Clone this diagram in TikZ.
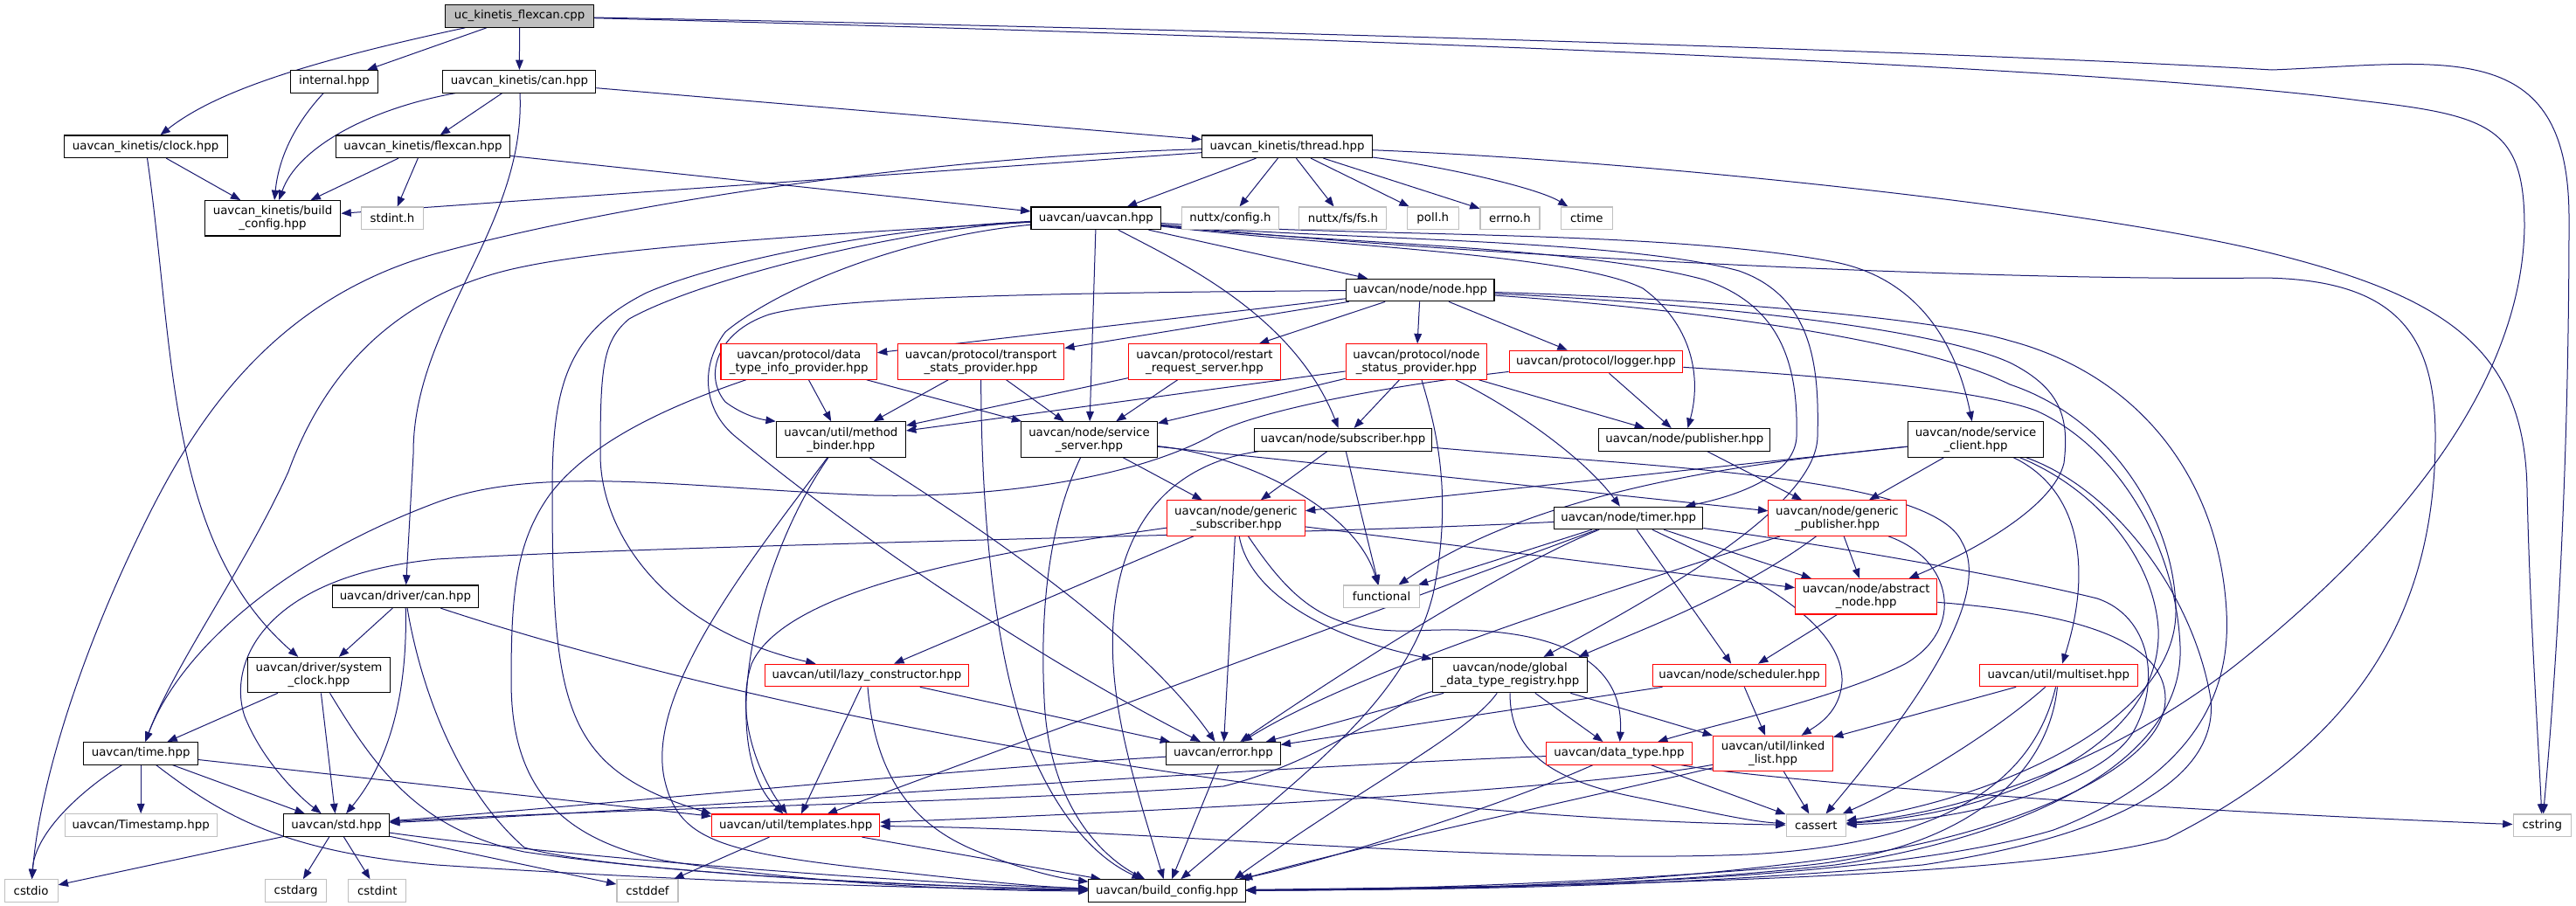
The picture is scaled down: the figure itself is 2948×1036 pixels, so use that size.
\documentclass[tikz,border=0pt]{standalone}
\usepackage{fontspec}
\setmainfont{DejaVu Sans}
\usetikzlibrary{arrows.meta}
\definecolor{edgecol}{HTML}{191970}
\definecolor{graybox}{HTML}{BFBFBF}
\definecolor{redbox}{HTML}{FF0000}
\pgfdeclarelayer{background}
\pgfsetlayers{background,main}
\tikzset{
  box/.style={rectangle, draw=black, fill=white, line width=0.8pt, inner sep=0pt,
    minimum height=19.2pt, font=\fontsize{10}{11.25}\selectfont, align=center, text=black},
  dbl/.style={minimum height=30.3pt},
  redb/.style={draw=redbox},
  grayb/.style={draw=graybox},
  root/.style={fill=graybox},
  arr/.style={draw=edgecol, line width=0.75pt, -{Triangle[length=8.5pt,width=6.5pt]}},
}
\begin{document}
\begin{tikzpicture}[x=0.75pt,y=-0.75pt]
\useasboundingbox (0,0) rectangle (2948,1036);
% ---------------- nodes ----------------
\node[box,root,minimum width=127.5pt] (uc) at (594.6,18.5) {uc\_kinetis\_flexcan.cpp};
\node[box,minimum width=74.7pt] (internal) at (382.5,93.3) {internal.hpp};
\node[box,minimum width=131.25pt] (kcan) at (594.4,93.3) {uavcan\_kinetis/can.hpp};
\node[box,minimum width=140.25pt] (kclock) at (166.6,167.8) {uavcan\_kinetis/clock.hpp};
\node[box,minimum width=149pt] (kflex) at (484,167.8) {uavcan\_kinetis/flexcan.hpp};
\node[box,dbl,minimum width=116.85pt] (kbuild) at (312,249.8) {uavcan\_kinetis/build\\\_config.hpp};
\node[box,grayb,minimum width=53.1pt] (stdint) at (449,249.8) {stdint.h};
\node[box,minimum width=145.95pt] (thread) at (1473,167.8) {uavcan\_kinetis/thread.hpp};
\node[box,minimum width=111.5pt] (uavcan) at (1254.3,249.8) {uavcan/uavcan.hpp};
\node[box,grayb,minimum width=82.95pt] (nconfig) at (1407.9,249.8) {nuttx/config.h};
\node[box,grayb,minimum width=75pt] (fsh) at (1536.9,249.8) {nuttx/fs/fs.h};
\node[box,grayb,minimum width=43.9pt] (pollh) at (1639.8,249.8) {poll.h};
\node[box,grayb,minimum width=51pt] (errnoh) at (1728,249.8) {errno.h};
\node[box,grayb,minimum width=43.9pt] (ctime) at (1815.8,249.8) {ctime};
\node[box,minimum width=127pt] (nnode) at (1625.3,332) {uavcan/node/node.hpp};
\node[box,dbl,redb,minimum width=133.8pt] (dtip) at (914.2,414) {uavcan/protocol/data\\\_type\_info\_provider.hpp};
\node[box,dbl,redb,minimum width=142.65pt] (tsp) at (1122.6,414) {uavcan/protocol/transport\\\_stats\_provider.hpp};
\node[box,dbl,redb,minimum width=130pt] (rrs) at (1378.5,414) {uavcan/protocol/restart\\\_request\_server.hpp};
\node[box,dbl,redb,minimum width=121.35pt] (nsp) at (1621,414) {uavcan/protocol/node\\\_status\_provider.hpp};
\node[box,redb,minimum width=149pt] (logger) at (1826.4,414) {uavcan/protocol/logger.hpp};
\node[box,dbl,minimum width=111.15pt] (mbinder) at (962.4,503) {uavcan/util/method\\\_binder.hpp};
\node[box,dbl,minimum width=116.8pt] (sserver) at (1246.5,503) {uavcan/node/service\\\_server.hpp};
\node[box,minimum width=151.8pt] (subscr) at (1537,503.3) {uavcan/node/subscriber.hpp};
\node[box,minimum width=146.85pt] (publ) at (1927.8,503.3) {uavcan/node/publisher.hpp};
\node[box,dbl,minimum width=116.8pt] (sclient) at (2261,503) {uavcan/node/service\\\_client.hpp};
\node[box,dbl,redb,minimum width=118.3pt] (gsub) at (1414.5,593.1) {uavcan/node/generic\\\_subscriber.hpp};
\node[box,dbl,redb,minimum width=118pt] (gpub) at (2102.5,593.1) {uavcan/node/generic\\\_publisher.hpp};
\node[box,minimum width=127.7pt] (timer) at (1863.7,592.9) {uavcan/node/timer.hpp};
\node[box,dbl,redb,minimum width=121.7pt] (anode) at (2135.7,682.8) {uavcan/node/abstract\\\_node.hpp};
\node[box,grayb,minimum width=65.5pt] (functional) at (1581,682.8) {functional};
\node[box,minimum width=125.25pt] (dcan) at (463.9,682.8) {uavcan/driver/can.hpp};
\node[box,dbl,minimum width=122.1pt] (sysclock) at (365,772.6) {uavcan/driver/system\\\_clock.hpp};
\node[box,redb,minimum width=174.5pt] (lazy) at (991.9,773) {uavcan/util/lazy\_constructor.hpp};
\node[box,dbl,minimum width=133pt] (registry) at (1728,772.6) {uavcan/node/global\\\_data\_type\_registry.hpp};
\node[box,redb,minimum width=149pt] (sched) at (1990.6,773) {uavcan/node/scheduler.hpp};
\node[box,redb,minimum width=135.45pt] (multiset) at (2355.8,773) {uavcan/util/multiset.hpp};
\node[box,minimum width=98pt] (ntime) at (161.2,862.3) {uavcan/time.hpp};
\node[box,minimum width=97.8pt] (nerror) at (1399.9,862.3) {uavcan/error.hpp};
\node[box,redb,minimum width=125.25pt] (dtype) at (1853,862.3) {uavcan/data\_type.hpp};
\node[box,dbl,redb,minimum width=102.7pt] (llist) at (2029,862.5) {uavcan/util/linked\\\_list.hpp};
\node[box,grayb,minimum width=130.6pt] (timestamp) at (161.2,944.5) {uavcan/Timestamp.hpp};
\node[box,minimum width=90.6pt] (nstd) at (385.1,944.5) {uavcan/std.hpp};
\node[box,redb,minimum width=144pt] (templates) at (910.7,944.8) {uavcan/util/templates.hpp};
\node[box,grayb,minimum width=51.4pt] (cassert) at (2078.3,944.8) {cassert};
\node[box,grayb,minimum width=49.9pt] (cstring) at (2909.3,944.8) {cstring};
\node[box,grayb,minimum width=45.7pt] (cstdio) at (35.6,1019.5) {cstdio};
\node[box,grayb,minimum width=52.7pt] (cstdarg) at (338.6,1019.5) {cstdarg};
\node[box,grayb,minimum width=49.5pt] (cstdint) at (431.8,1019.5) {cstdint};
\node[box,grayb,minimum width=52.5pt] (cstddef) at (741,1019.5) {cstddef};
\node[box,minimum width=134.5pt] (build) at (1335.6,1019.5) {uavcan/build\_config.hpp};
% ---------------- edges ----------------
\begin{pgfonlayer}{background}
\fill[white] (0,0) rectangle (2948,1036);
% uc
\draw[arr] (uc) .. controls (330,75) and (240,110) .. (kclock);
\draw[arr] (uc) -- (internal);
\draw[arr] (uc) -- (kcan);
\draw[arr] (uc) .. controls (1500,35) and (2300,62) .. (2600,80) .. controls (2800,72) and (2940,40) .. (2940,250) .. controls (2940,600) and (2918,850) .. (cstring);
\draw[arr] (uc) .. controls (1500,42) and (2400,75) .. (2700,115) .. controls (2850,132) and (2889,145) .. (2889,260) .. controls (2886,430) and (2760,600) .. (2560,760) .. controls (2420,870) and (2250,930) .. (cassert);
% internal, kinetis
\draw[arr] (internal) .. controls (330,150) and (318,190) .. (kbuild);
\draw[arr] (kcan) .. controls (420,125) and (340,170) .. (kbuild);
\draw[arr] (kcan) -- (kflex);
\draw[arr] (kcan) .. controls (602,260) and (472,370) .. (473,520) -- (dcan);
\draw[arr] (kcan) -- (thread);
\draw[arr] (kclock) -- (kbuild);
\draw[arr] (kclock) .. controls (200,400) and (190,620) .. (sysclock);
\draw[arr] (kflex) -- (kbuild);
\draw[arr] (kflex) -- (stdint);
\draw[arr] (kflex) -- (uavcan);
% thread
\draw[arr] (thread) -- (kbuild);
\draw[arr] (thread) -- (uavcan);
\draw[arr] (thread) -- (nconfig);
\draw[arr] (thread) -- (fsh);
\draw[arr] (thread) -- (pollh);
\draw[arr] (thread) -- (errnoh);
\draw[arr] (thread) .. controls (1650,190) and (1760,215) .. (ctime);
\draw[arr] (thread) .. controls (1900,185) and (2400,240) .. (2600,290) .. controls (2800,340) and (2889,400) .. (2892,560) .. controls (2895,700) and (2905,850) .. (cstring);
\draw[arr] (thread) .. controls (1050,180) and (700,235) .. (500,290) .. controls (320,340) and (230,470) .. (170,590) .. controls (90,750) and (45,900) .. (cstdio);
% uavcan
\draw[arr] (uavcan) .. controls (1000,265) and (720,280) .. (600,305) .. controls (450,335) and (370,430) .. (330,540) .. controls (280,650) and (200,760) .. (ntime);
\draw[arr] (uavcan) .. controls (1000,262) and (820,300) .. (740,335) .. controls (650,380) and (632,440) .. (632,560) .. controls (632,810) and (645,880) .. (templates.north west);
\draw[arr] (uavcan) .. controls (1030,262) and (800,320) .. (720,365) .. controls (690,390) and (687,420) .. (687,520) .. controls (687,610) and (760,720) .. (lazy);
\draw[arr] (uavcan) .. controls (1030,272) and (890,330) .. (830,380) .. controls (800,420) and (805,470) .. (842,500) .. controls (1000,630) and (1200,760) .. (nerror);
\draw[arr] (uavcan) -- (sserver);
\draw[arr] (uavcan) .. controls (1350,300) and (1480,360) .. (subscr);
\draw[arr] (uavcan) -- (nnode);
\draw[arr] (uavcan) .. controls (1500,280) and (1800,290) .. (1880,330) .. controls (1935,370) and (1948,430) .. (publ);
\draw[arr] (uavcan) .. controls (1500,278) and (1800,280) .. (1950,320) .. controls (2040,350) and (2058,420) .. (2056,500) .. controls (2054,540) and (2000,565) .. (timer);
\draw[arr] (uavcan) .. controls (1500,274) and (1850,272) .. (1990,310) .. controls (2075,340) and (2082,420) .. (2080,500) .. controls (2078,580) and (1900,680) .. (registry);
\draw[arr] (uavcan) .. controls (1550,272) and (1900,262) .. (2100,300) .. controls (2200,320) and (2240,400) .. (sclient);
\draw[arr] (uavcan) .. controls (1700,295) and (2300,322) .. (2590,318) .. controls (2740,320) and (2787,380) .. (2787,500) .. controls (2787,700) and (2700,850) .. (2480,960) .. controls (2300,1010) and (1700,1015) .. (build);
% node
\draw[arr] (nnode) .. controls (1200,335) and (950,340) .. (880,360) .. controls (820,380) and (805,430) .. (830,460) .. controls (850,475) and (870,480) .. (mbinder.north west);
\draw[arr] (nnode) -- (dtip);
\draw[arr] (nnode) -- (tsp);
\draw[arr] (nnode) -- (rrs);
\draw[arr] (nnode) -- (nsp);
\draw[arr] (nnode) -- (logger);
\draw[arr] (nnode) .. controls (1900,345) and (2200,370) .. (2300,415) .. controls (2360,445) and (2368,480) .. (2362,530) .. controls (2350,580) and (2260,630) .. (anode);
\draw[arr] (nnode) .. controls (1950,355) and (2200,390) .. (2300,440) .. controls (2420,480) and (2490,600) .. (2490,700) .. controls (2490,820) and (2300,910) .. (cassert);
\draw[arr] (nnode) .. controls (1900,340) and (2200,360) .. (2300,390) .. controls (2450,430) and (2540,550) .. (2548,700) .. controls (2555,820) and (2480,900) .. (2350,950) .. controls (2150,1010) and (1700,1018) .. (build);
% logger
\draw[arr] (logger) .. controls (1600,440) and (1430,470) .. (1384,500) .. controls (1300,545) and (1150,570) .. (1000,567) .. controls (800,560) and (620,530) .. (500,575) .. controls (300,650) and (200,760) .. (ntime);
\draw[arr] (logger) -- (publ);
\draw[arr] (logger) .. controls (2000,425) and (2250,440) .. (2330,470) .. controls (2420,510) and (2490,620) .. (2495,740) .. controls (2500,880) and (2300,960) .. (2100,990) .. controls (1900,1012) and (1700,1018) .. (build);
% node status provider
\draw[arr] (nsp) -- (mbinder);
\draw[arr] (nsp) -- (sserver);
\draw[arr] (nsp) -- (subscr);
\draw[arr] (nsp) .. controls (1640,480) and (1665,560) .. (1640,680) .. controls (1610,800) and (1500,880) .. (build);
\draw[arr] (nsp) .. controls (1720,460) and (1810,520) .. (timer);
\draw[arr] (nsp) -- (publ);
% data type info provider
\draw[arr] (dtip) .. controls (780,460) and (680,500) .. (630,565) .. controls (590,620) and (585,680) .. (585,780) .. controls (585,900) and (640,960) .. (760,985) .. controls (950,1015) and (1150,1020) .. (build);
\draw[arr] (dtip) -- (mbinder);
\draw[arr] (dtip) -- (sserver);
% transport stats provider
\draw[arr] (tsp) -- (mbinder);
\draw[arr] (tsp) -- (sserver);
\draw[arr] (tsp) .. controls (1123,600) and (1140,760) .. (1180,860) .. controls (1210,930) and (1250,980) .. (build);
% restart request server
\draw[arr] (rrs) -- (mbinder);
\draw[arr] (rrs) -- (sserver);
% method binder
\draw[arr] (mbinder) .. controls (1100,590) and (1300,720) .. (nerror);
\draw[arr] (mbinder) .. controls (860,650) and (820,860) .. (templates);
\draw[arr] (mbinder) .. controls (860,640) and (740,790) .. (760,890) .. controls (775,960) and (820,975) .. (1000,995) .. controls (1100,1006) and (1180,1015) .. (build);
% service server
\draw[arr] (sserver) -- (gsub);
\draw[arr] (sserver) -- (gpub);
\draw[arr] (sserver) .. controls (1420,520) and (1550,580) .. (functional);
\draw[arr] (sserver) .. controls (1200,600) and (1190,700) .. (1195,800) .. controls (1200,920) and (1260,980) .. (build);
% subscriber
\draw[arr] (subscr) -- (gsub);
\draw[arr] (subscr) -- (functional);
\draw[arr] (subscr) .. controls (1380,525) and (1290,560) .. (1275,700) .. controls (1265,800) and (1300,900) .. (build);
\draw[arr] (subscr) .. controls (1900,535) and (2210,545) .. (2245,620) .. controls (2280,680) and (2200,800) .. (cassert);
% publisher
\draw[arr] (publ) -- (gpub);
% service client
\draw[arr] (sclient) -- (gsub);
\draw[arr] (sclient) .. controls (2000,530) and (1760,560) .. (functional);
\draw[arr] (sclient) -- (gpub);
\draw[arr] (sclient) .. controls (2380,560) and (2395,650) .. (multiset);
\draw[arr] (sclient) .. controls (2400,560) and (2465,640) .. (2470,720) .. controls (2475,850) and (2300,930) .. (cassert);
\draw[arr] (sclient) .. controls (2420,560) and (2510,680) .. (2530,800) .. controls (2540,900) and (2400,960) .. (2200,990) .. controls (1900,1015) and (1700,1018) .. (build);
% generic subscriber
\draw[arr] (gsub) .. controls (1150,630) and (900,670) .. (860,760) .. controls (840,820) and (870,890) .. (templates);
\draw[arr] (gsub) -- (lazy);
\draw[arr] (gsub) -- (nerror);
\draw[arr] (gsub) .. controls (1430,680) and (1520,730) .. (registry);
\draw[arr] (gsub) .. controls (1480,690) and (1520,725) .. (1620,722) .. controls (1750,715) and (1860,740) .. (dtype);
\draw[arr] (gsub) -- (anode);
% generic publisher
\draw[arr] ([xshift=-18pt]gpub.south) .. controls (1990,680) and (1880,720) .. ([xshift=-8pt]registry.north east);
\draw[arr] ([xshift=-49pt]gpub.south) .. controls (1800,690) and (1550,770) .. (nerror);
\draw[arr] (gpub) -- (anode);
\draw[arr] (gpub) .. controls (2235,640) and (2250,720) .. (2180,760) .. controls (2100,800) and (1960,830) .. (dtype);
% timer
\draw[arr] (timer) .. controls (1500,612) and (800,622) .. (500,640) .. controls (300,660) and (260,760) .. (280,820) .. controls (300,870) and (340,910) .. (nstd);
\draw[arr] (timer) -- (functional);
\draw[arr] (timer) .. controls (1720,650) and (1520,780) .. (nerror);
\draw[arr] (timer) -- (templates);
\draw[arr] (timer) -- (sched);
\draw[arr] (timer) .. controls (1960,640) and (2110,700) .. (2108,780) .. controls (2106,815) and (2080,830) .. (llist);
\draw[arr] (timer) -- (anode);
\draw[arr] (timer) .. controls (2100,625) and (2300,660) .. (2400,685) .. controls (2460,705) and (2475,780) .. (2440,840) .. controls (2400,900) and (2250,940) .. (cassert);
% scheduler, abstract node
\draw[arr] (sched) -- (nerror);
\draw[arr] (sched) -- (llist);
\draw[arr] (anode) -- (sched);
\draw[arr] (anode) .. controls (2350,700) and (2478,725) .. (2478,800) .. controls (2478,880) and (2300,950) .. (2150,975) .. controls (1900,1012) and (1700,1018) .. (build);
% registry
\draw[arr] (registry) .. controls (1600,800) and (1520,870) .. (1400,900) .. controls (1100,920) and (700,925) .. (nstd);
\draw[arr] (registry) -- (nerror);
\draw[arr] (registry) .. controls (1728,850) and (1760,890) .. (1870,912) .. controls (1950,928) and (2000,940) .. (cassert);
\draw[arr] (registry) -- (dtype);
\draw[arr] (registry) -- (llist);
\draw[arr] (registry) .. controls (1680,840) and (1560,900) .. ([xshift=-10pt]build.north east);
% data type
\draw[arr] (dtype) .. controls (1400,880) and (800,925) .. (nstd);
\draw[arr] (dtype) .. controls (1700,930) and (1500,990) .. ([xshift=-6pt]build.north east);
\draw[arr] (dtype) -- (cassert);
\draw[arr] (dtype) .. controls (2000,890) and (2400,925) .. (cstring);
% linked list
\draw[arr] (llist) -- (cassert);
\draw[arr] (llist) .. controls (1850,905) and (1550,970) .. ([xshift=-3pt]build.north east);
\draw[arr] (llist) .. controls (1800,905) and (1300,930) .. (templates);
% multiset
\draw[arr] (multiset) -- (llist);
\draw[arr] (multiset) .. controls (2280,840) and (2180,900) .. (cassert);
\draw[arr] (multiset) .. controls (2330,880) and (2250,965) .. (2000,978) .. controls (1700,990) and (1300,948) .. (templates);
\draw[arr] (multiset) .. controls (2345,880) and (2260,975) .. (2050,992) .. controls (1800,1012) and (1600,1018) .. (build);
% lazy constructor
\draw[arr] (lazy) -- (nerror);
\draw[arr] (lazy) -- (templates);
\draw[arr] (lazy) .. controls (1000,870) and (1030,940) .. (1120,975) .. controls (1170,995) and (1210,1005) .. (build);
% error, templates
\draw[arr] (nerror) .. controls (1100,880) and (700,920) .. (nstd);
\draw[arr] (nerror) -- (build);
\draw[arr] (templates) -- (cstddef);
\draw[arr] (templates) -- (build);
% time
\draw[arr] (ntime) .. controls (100,900) and (40,950) .. (cstdio);
\draw[arr] (ntime) -- (timestamp);
\draw[arr] (ntime) -- (nstd);
\draw[arr] (ntime) .. controls (250,930) and (320,975) .. (500,990) .. controls (800,1010) and (1100,1018) .. (build);
\draw[arr] (ntime) -- (templates);
% system clock
\draw[arr] (sysclock) -- (ntime);
\draw[arr] (sysclock) -- (nstd);
\draw[arr] (sysclock) .. controls (430,880) and (480,950) .. (600,975) .. controls (800,1005) and (1100,1016) .. (build);
% driver can
\draw[arr] (dcan) -- (sysclock);
\draw[arr] (dcan) .. controls (466,770) and (455,860) .. (nstd);
\draw[arr] (dcan) .. controls (480,780) and (520,900) .. (600,970) .. controls (700,1000) and (1100,1016) .. (build);
\draw[arr] (dcan) .. controls (880,820) and (1500,935) .. (cassert);
% std
\draw[arr] (nstd) -- (cstdio);
\draw[arr] (nstd) -- (cstdarg);
\draw[arr] (nstd) -- (cstdint);
\draw[arr] (nstd) -- (cstddef);
\draw[arr] (nstd) .. controls (600,975) and (1000,1010) .. (build);
\end{pgfonlayer}
\end{tikzpicture}
\end{document}
